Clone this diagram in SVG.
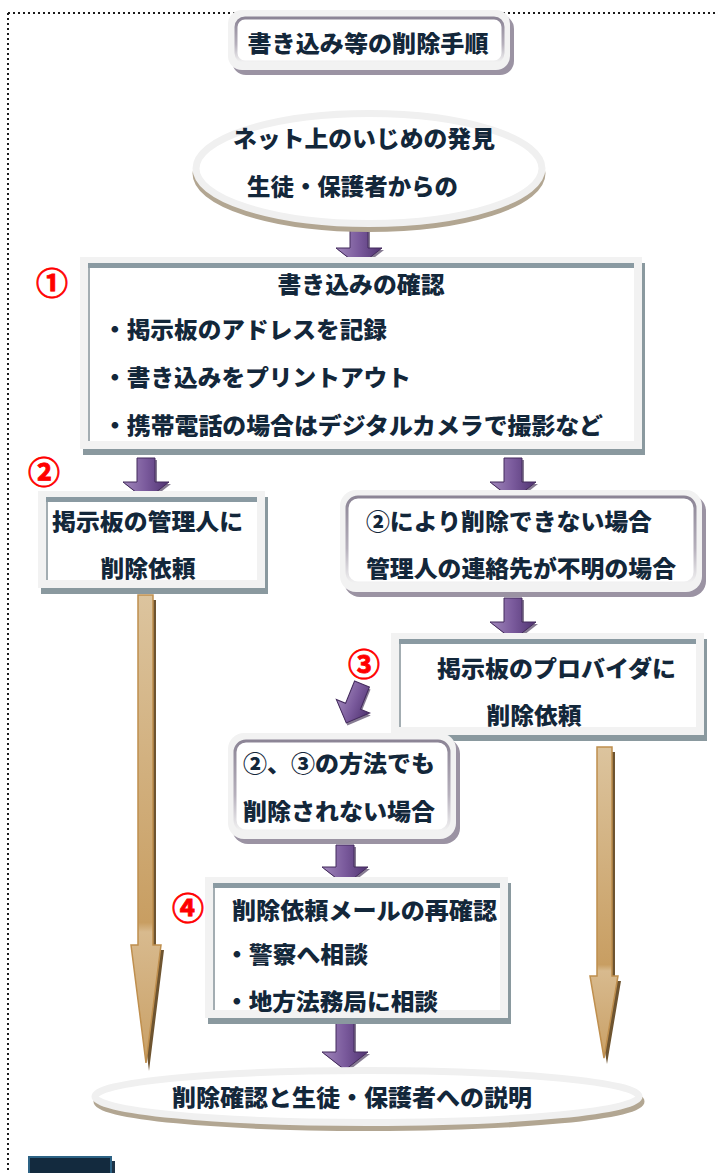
<svg xmlns="http://www.w3.org/2000/svg" width="717" height="1173" viewBox="0 0 717 1173">
<style>
.t{font-family:"Noto Sans CJK JP","Noto Sans CJK SC",sans-serif;font-weight:900;font-size:23px;fill:#13273a;dominant-baseline:central}
.r{font-family:"Noto Sans CJK JP","DejaVu Sans",sans-serif;font-weight:700;font-size:32px;fill:#ff0000;dominant-baseline:central;text-anchor:middle;stroke:#ff0000;stroke-width:0.8}
.dot{fill:none;stroke:#1a1a1a;stroke-width:2;stroke-dasharray:2 3}
.sh{fill:#8a999f}
.fr{fill:#f2f2f2}
.bar{fill:#8a9aa2}
.in{fill:#fff}
.ll{fill:#a3adb2}
.rsh{fill:#9b93a3}
.rin{fill:#fff;stroke:url(#rstroke);stroke-width:3}
.pa{fill:url(#pg);stroke:#432a5c;stroke-width:1}
.pas{fill:#35234a;opacity:0.6}
.ta{fill:url(#tg);stroke:#bf8f4e;stroke-width:1.5}
.tas{fill:#6e5430}
</style>
<defs>
<linearGradient id="rstroke" x1="0" y1="0" x2="0" y2="1">
<stop offset="0" stop-color="#8c8596"/>
<stop offset="0.6" stop-color="#b6b0bc"/>
<stop offset="1" stop-color="#f2f2f2"/>
</linearGradient>
<linearGradient id="pg" x1="0" y1="0" x2="1" y2="0">
<stop offset="0" stop-color="#a188bb"/>
<stop offset="0.5" stop-color="#7a5a9c"/>
<stop offset="1" stop-color="#4f3270"/>
</linearGradient>
<linearGradient id="tg" x1="0" y1="0" x2="0" y2="1">
<stop offset="0" stop-color="#dcc49e"/>
<stop offset="0.7" stop-color="#c89e62"/>
<stop offset="0.72" stop-color="#d8ba8e"/>
<stop offset="1" stop-color="#c9a066"/>
</linearGradient>
</defs>

<g id="border">
<line class="dot" x1="8" y1="13" x2="717" y2="13"/>
<line class="dot" x1="8" y1="13" x2="8" y2="1173"/>
</g>

<g id="connectors">
<path class="tas" d="M141 600 H156 V950 H164 L149 1071 L134 950 H141 Z"/>
<path class="ta" d="M138 595 H153 V945 H161 L146 1063 L131 945 H138 Z"/>
<path class="tas" d="M600 752 H615 V981 H621 L607 1064 L593 981 H600 Z"/>
<path class="ta" d="M597 747 H612 V976 H618 L604 1058 L590 976 H597 Z"/>

<path class="pas" d="M352 228 H370 V250 H384 L361 268 L338 250 H352 Z"/>
<path class="pa" d="M350 226 H368 V248 H382 L359 266 L336 248 H350 Z"/>
<path class="pas" d="M139 460 H157 V484 H171 L148 502 L125 484 H139 Z"/>
<path class="pa" d="M137 458 H155 V482 H169 L146 500 L123 482 H137 Z"/>
<path class="pas" d="M506 460 H524 V484 H538 L515 502 L492 484 H506 Z"/>
<path class="pa" d="M504 458 H522 V482 H536 L513 500 L490 482 H504 Z"/>
<path class="pas" d="M506 600 H524 V624 H538 L515 642 L492 624 H506 Z"/>
<path class="pa" d="M504 598 H522 V622 H536 L513 640 L490 622 H504 Z"/>
<path class="pas" d="M338 847 H356 V869 H370 L347 887 L324 869 H338 Z"/>
<path class="pa" d="M336 845 H354 V867 H368 L345 885 L322 867 H336 Z"/>
<path class="pas" d="M338 1024 H356 V1054 H370 L347 1072 L324 1054 H338 Z"/>
<path class="pa" d="M336 1022 H354 V1052 H368 L345 1070 L322 1052 H336 Z"/>
<g transform="translate(362 684) rotate(22)">
<path class="pas" d="M-6 2 H10 V26 H20 L2 44 L-16 26 H-6 Z"/>
<path class="pa" d="M-8 0 H8 V24 H18 L0 42 L-18 24 H-8 Z"/>
</g>
</g>

<g id="title">
<rect class="rsh" x="232" y="15" width="282" height="60" rx="14"/>
<rect class="fr" x="228" y="10" width="282" height="60" rx="14"/>
<rect class="rin" x="236" y="18" width="267" height="44" rx="9"/>
<text class="t" x="368" y="42" text-anchor="middle" textLength="241" lengthAdjust="spacingAndGlyphs">書き込み等の削除手順</text>
</g>

<g id="start">
<ellipse cx="369" cy="173.5" rx="173" ry="55" fill="none" stroke="#b2a692" stroke-width="7"/>
<ellipse cx="369" cy="168.5" rx="173" ry="55" fill="#fff" stroke="#f0f0f0" stroke-width="7"/>
<text class="t" x="233" y="137" textLength="262" lengthAdjust="spacingAndGlyphs">ネット上のいじめの発見</text>
<text class="t" x="247" y="185" textLength="211" lengthAdjust="spacingAndGlyphs">生徒・保護者からの</text>
</g>

<g id="step1">
<rect class="sh" x="83" y="263" width="562" height="192"/>
<rect class="fr" x="80" y="257" width="562" height="192"/>
<rect class="bar" x="88" y="263" width="546" height="5"/>
<rect class="in" x="88" y="268" width="546" height="173"/>
<rect class="ll" x="88" y="268" width="2" height="173"/>
<text class="t" x="361" y="283" text-anchor="middle" textLength="167" lengthAdjust="spacingAndGlyphs">書き込みの確認</text>
<text class="t" x="103" y="328" textLength="284" lengthAdjust="spacingAndGlyphs">・掲示板のアドレスを記録</text>
<text class="t" x="103" y="376" textLength="308" lengthAdjust="spacingAndGlyphs">・書き込みをプリントアウト</text>
<text class="t" x="103" y="424" textLength="500" lengthAdjust="spacingAndGlyphs">・携帯電話の場合はデジタルカメラで撮影など</text>
<text class="r" x="52" y="281">①</text>
</g>

<g id="step2a">
<rect class="sh" x="41" y="497" width="227" height="97"/>
<rect class="fr" x="38" y="491" width="227" height="97"/>
<rect class="bar" x="46" y="497" width="211" height="5"/>
<rect class="in" x="46" y="502" width="211" height="78"/>
<rect class="ll" x="46" y="502" width="2" height="78"/>
<text class="t" x="52" y="520" textLength="191" lengthAdjust="spacingAndGlyphs">掲示板の管理人に</text>
<text class="t" x="148" y="567" text-anchor="middle" textLength="95" lengthAdjust="spacingAndGlyphs">削除依頼</text>
<text class="r" x="44" y="470">②</text>
</g>

<g id="step2b">
<rect class="rsh" x="344" y="495" width="362" height="102" rx="16"/>
<rect class="fr" x="340" y="490" width="362" height="102" rx="16"/>
<rect class="rin" x="347" y="497" width="348" height="86" rx="11"/>
<text class="t" x="366" y="520" textLength="286" lengthAdjust="spacingAndGlyphs">②により削除できない場合</text>
<text class="t" x="366" y="567" textLength="310" lengthAdjust="spacingAndGlyphs">管理人の連絡先が不明の場合</text>
</g>

<g id="step3">
<rect class="sh" x="394" y="639" width="313" height="102"/>
<rect class="fr" x="391" y="633" width="313" height="102"/>
<rect class="bar" x="399" y="639" width="297" height="5"/>
<rect class="in" x="399" y="644" width="297" height="83"/>
<rect class="ll" x="399" y="644" width="2" height="83"/>
<text class="t" x="437" y="667" textLength="239" lengthAdjust="spacingAndGlyphs">掲示板のプロバイダに</text>
<text class="t" x="534" y="714" text-anchor="middle" textLength="95" lengthAdjust="spacingAndGlyphs">削除依頼</text>
<text class="r" x="364" y="662">③</text>
</g>

<g id="step3b">
<rect class="rsh" x="232" y="738" width="228" height="106" rx="16"/>
<rect class="fr" x="228" y="733" width="228" height="106" rx="16"/>
<rect class="rin" x="235" y="741" width="214" height="90" rx="11"/>
<text class="t" x="243" y="762" textLength="192" lengthAdjust="spacingAndGlyphs">②、③の方法でも</text>
<text class="t" x="243" y="810" textLength="192" lengthAdjust="spacingAndGlyphs">削除されない場合</text>
</g>

<g id="step4">
<rect class="sh" x="208" y="883" width="303" height="141"/>
<rect class="fr" x="205" y="877" width="303" height="141"/>
<rect class="bar" x="213" y="883" width="287" height="5"/>
<rect class="in" x="213" y="888" width="287" height="122"/>
<rect class="ll" x="213" y="888" width="2" height="122"/>
<text class="t" x="232" y="909" textLength="265" lengthAdjust="spacingAndGlyphs">削除依頼メールの再確認</text>
<text class="t" x="225" y="953" textLength="143" lengthAdjust="spacingAndGlyphs">・警察へ相談</text>
<text class="t" x="225" y="1000" textLength="213" lengthAdjust="spacingAndGlyphs">・地方法務局に相談</text>
<text class="r" x="188" y="906">④</text>
</g>

<g id="end">
<ellipse cx="369" cy="1101.5" rx="272" ry="26" fill="none" stroke="#b2a692" stroke-width="7"/>
<ellipse cx="367" cy="1096.5" rx="272" ry="26" fill="#fff" stroke="#f0f0f0" stroke-width="7"/>
<text class="t" x="352" y="1096" text-anchor="middle" textLength="360" lengthAdjust="spacingAndGlyphs">削除確認と生徒・保護者への説明</text>
</g>

<g id="footer">
<rect x="33" y="1161" width="82" height="20" fill="#1d3347"/>
<rect x="29" y="1157" width="82" height="20" fill="#132a3e" stroke="#2d6385" stroke-width="2"/>
</g>
</svg>
